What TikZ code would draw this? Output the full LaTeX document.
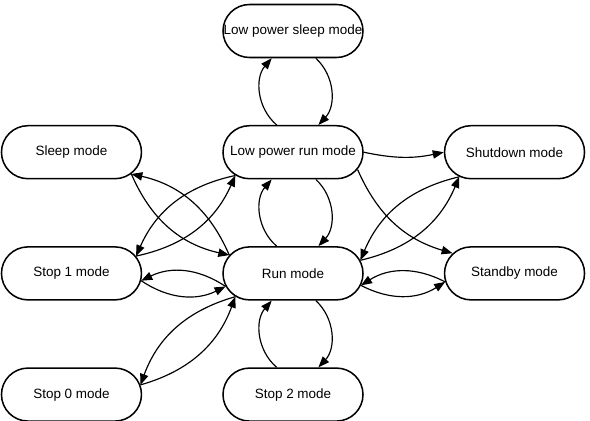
\documentclass[tikz,border=0pt]{standalone}
\usepackage{fontspec}
\setmainfont{Liberation Sans}
\usetikzlibrary{shapes.misc, arrows.meta, positioning}

\begin{document}
\begin{tikzpicture}[
    node distance=2.0cm and 2.4cm,
    every node/.style={font=\fontsize{11.5}{13}\selectfont},
    statebox/.style={draw=black, fill=white, rounded rectangle, minimum width=4.2cm, minimum height=1.59cm, inner xsep=0pt, line width=1.3pt,
        execute at begin node={\hbox to #1\bgroup\hss}, execute at end node={\hss\egroup}},
    statebox/.default=2.61cm,
    arr/.style={-{Triangle[length=3.3mm, width=2.5mm]}, line width=1pt, color=black}
]
\useasboundingbox (0,0) rectangle (17.7,-12.6);

% Top: low power sleep
\node[statebox=2.92cm] (lpsleep) at (8.79,-0.93) {Low power sleep mode};

% Row 1
\node[statebox, below=of lpsleep] (lprun) {Low power run mode};
\node[statebox, left=of lprun] (sleep) {Sleep mode};
\node[statebox, right=of lprun] (shutdown) {Shutdown mode};

% Row 2
\node[statebox, below=of lprun] (run) {Run mode};
\node[statebox, left=of run] (stop1) {Stop 1 mode};
\node[statebox, right=of run] (standby) {Standby mode};

% Row 3
\node[statebox, below=of stop1] (stop0) {Stop 0 mode};
\node[statebox, below=of run] (stop2) {Stop 2 mode};

% Vertical pairs
\draw[arr] (lpsleep.-50) to[bend left=45] (lprun.47);
\draw[arr] (lprun.121) to[bend left=45] (lpsleep.-128);
\draw[arr] (lprun.-50) to[bend left=45] (run.47);
\draw[arr] (run.121) to[bend left=45] (lprun.-128);
\draw[arr] (run.-50) to[bend left=45] (stop2.47);
\draw[arr] (stop2.121) to[bend left=45] (run.-128);

% Left side
\draw[arr] (sleep.-20) to[bend right=27] (run.164);
\draw[arr] (run.164) to[bend right=27] (sleep.-20);
\draw[arr] (lprun.-158) to[bend right=27] (stop1.15);
\draw[arr] (stop1.15) to[bend right=27] (lprun.-158);
\draw[arr] (run.-169) to[bend right=30] (stop1.-6);
\draw[arr] (stop1.-6) to[bend right=30] (run.-169);
\draw[arr] (stop0.8) to[bend right=27] (run.-158);
\draw[arr] (run.-158) to[bend right=27] (stop0.8);

% Right side
\draw[arr] (lprun.0) to[bend right=12] (shutdown.180);
\draw[arr] (lprun.-15) to[bend right=25] (standby.162);
\draw[arr] (run.11) to[bend right=27] (shutdown.-156);
\draw[arr] (shutdown.-156) to[bend right=27] (run.11);
\draw[arr] (standby.-173) to[bend right=30] (run.-10);
\draw[arr] (run.-10) to[bend right=30] (standby.-173);

\end{tikzpicture}
\end{document}
